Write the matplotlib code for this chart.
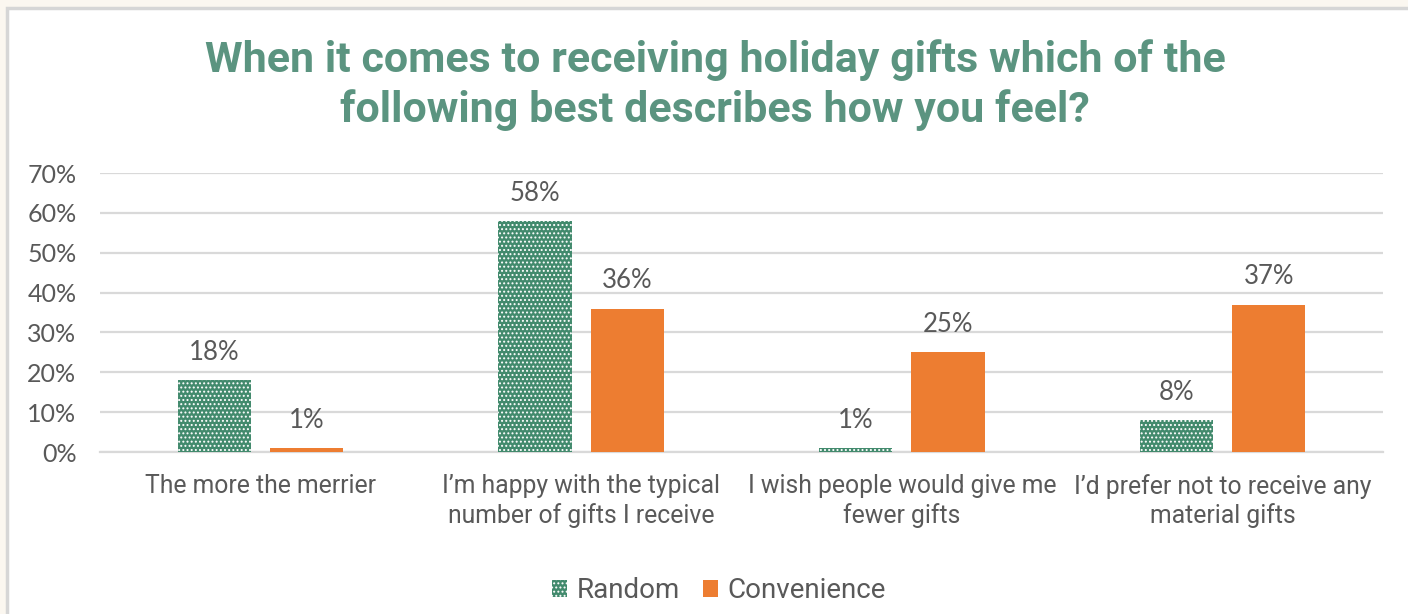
import matplotlib
matplotlib.use("Agg")
import matplotlib.pyplot as plt
from matplotlib.patches import Rectangle
import numpy as np

categories = [
    "The more the merrier",
    "I\u2019m happy with the typical\nnumber of gifts I receive",
    "I wish people would give me\nfewer gifts",
    "I\u2019d prefer not to receive any\nmaterial gifts",
]
random_vals = [18, 58, 1, 8]
convenience_vals = [1, 36, 25, 37]
series_names = ["Random", "Convenience"]
y_ticks = [0, 10, 20, 30, 40, 50, 60, 70]

GREEN = "#428A6D"
ORANGE = "#ED7D31"
TITLE_C = "#5B9480"
TEXT_C = "#595959"
GRID_C = "#D9D9D9"

plt.rcParams["hatch.linewidth"] = 0.9

fig = plt.figure(figsize=(14.08, 6.14), dpi=100)
fig.patch.set_facecolor("#FBF7F0")
# white chart panel with a light border
fig.patches.append(Rectangle((7 / 1408, -0.05), 1.1, 1 - 8 / 614 + 0.05,
                             transform=fig.transFigure, facecolor="white",
                             edgecolor="#D6D6D6", linewidth=2.5, zorder=-5))

ax = fig.add_axes([100 / 1408, 1 - 452 / 614, 1283 / 1408, (452 - 173) / 614])
ax.set_facecolor("none")
ax.set_zorder(2)

x = np.arange(len(categories))
w = 0.228
gap = 0.06
off = (w + gap) / 2

bars_r = ax.bar(x - off, [v / 100 for v in random_vals], width=w,
                facecolor=GREEN, edgecolor="white", hatch="....", linewidth=0,
                label=series_names[0], zorder=3)
bars_c = ax.bar(x + off, [v / 100 for v in convenience_vals], width=w,
                color=ORANGE, linewidth=0, label=series_names[1], zorder=3)

for bars, vals in ((bars_r, random_vals), (bars_c, convenience_vals)):
    for b, v in zip(bars, vals):
        ax.annotate(f"{v}%", (b.get_x() + b.get_width() / 2, v / 100),
                    xytext=(0, 11), textcoords="offset points",
                    ha="center", va="bottom", fontsize=18.5, color=TEXT_C,
                    family="Lato")

ax.set_xlim(-0.5, len(categories) - 0.5)
ax.set_ylim(0, 0.7)
ax.set_yticks([t / 100 for t in y_ticks])
ax.set_yticklabels([f"{t}%" for t in y_ticks], family="Lato", fontsize=18,
                   color=TEXT_C)
ax.set_xticks(x)
ax.set_xticklabels(categories, family="Roboto", fontsize=17.8, color=TEXT_C,
                   linespacing=1.22)
ax.tick_params(axis="y", length=0, pad=17)
ax.tick_params(axis="x", length=0, pad=16)
ax.grid(axis="y", color=GRID_C, linewidth=1.6, zorder=0)
for s in ("top", "right", "left"):
    ax.spines[s].set_visible(False)
ax.spines["bottom"].set_color(GRID_C)
ax.spines["bottom"].set_linewidth(1.6)

fig.text(0.508, 1 - 85 / 614,
         "When it comes to receiving holiday gifts which of the\nfollowing best describes how you feel?",
         ha="center", va="center", fontsize=31, fontweight="bold",
         color=TITLE_C, family="Roboto", linespacing=1.25)

leg = fig.legend(handles=[bars_r, bars_c], labels=series_names,
                 loc="center", bbox_to_anchor=(719 / 1408, 1 - 591 / 614),
                 ncol=2, frameon=False, prop={"family": "Roboto", "size": 20},
                 handlelength=0.55, handleheight=0.55, handletextpad=0.35,
                 columnspacing=0.8)
for t in leg.get_texts():
    t.set_color(TEXT_C)

fig.savefig("out.png", dpi=100, facecolor=fig.get_facecolor())
